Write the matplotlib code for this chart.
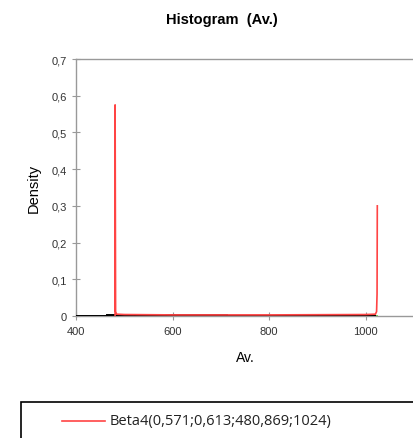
import matplotlib
matplotlib.use('Agg')
import matplotlib.pyplot as plt
from matplotlib.lines import Line2D
from matplotlib.patches import Rectangle
from matplotlib.ticker import FuncFormatter

# fitted Beta4 density
fit_x = [480.9, 481.0, 482.0, 484.0, 500.0, 600.0, 800.0, 1000.0, 1020.0, 1022.5, 1023.5, 1024.0]
fit_y = [0.0, 0.575, 0.012, 0.005, 0.004, 0.003, 0.003, 0.004, 0.005, 0.012, 0.06, 0.30]

# empirical histogram (tiny bars along the bottom)
bin_edges = [400, 465, 480, 523, 587, 713, 772, 834, 901, 963, 1022]
bin_dens = [0.0, 0.003, 0.0015, 0.0012, 0.002, 0.0012, 0.0012, 0.002, 0.0012, 0.0012]

fit_label = "Beta4(0,571;0,613;480,869;1024)"

plt.rcParams['font.family'] = ['Liberation Sans', 'DejaVu Sans']

fig = plt.figure(figsize=(4.14, 4.39), dpi=100)
ax = fig.add_axes([76 / 414, 1 - 317 / 439, 1 - 76 / 414, 257 / 439])

# histogram bars
ax.plot([465, 1022], [0.0008, 0.0008], color='#66cc33', lw=2, zorder=2)
ax.stairs(bin_dens, bin_edges, color='black', lw=1.4, zorder=3)
ax.plot(fit_x, fit_y, color='#ff4444', lw=1.2, zorder=4)

ax.set_xlim(400, 1100)
ax.set_ylim(0, 0.7)
ax.set_xticks([400, 600, 800, 1000])
ax.set_yticks([0, 0.1, 0.2, 0.3, 0.4, 0.5, 0.6, 0.7])
ax.yaxis.set_major_formatter(FuncFormatter(lambda v, p: '0' if v == 0 else ('%.1f' % v).replace('.', ',')))

for s in ['left', 'bottom', 'top']:
    ax.spines[s].set_color('#999999')
    ax.spines[s].set_linewidth(1)
ax.spines['right'].set_visible(False)
ax.tick_params(direction='inout', length=6, color='#999999', labelsize=8, labelcolor='#333333')
ax.tick_params(axis='x', pad=4)

ax.set_xlabel("Av.", fontsize=10, labelpad=10)
ax.set_ylabel("Density", fontsize=10.5, labelpad=8)

fig.text(222 / 414, 1 - 20 / 439, "Histogram  (Av.)", ha='center', va='center',
         fontsize=10.5, fontweight='bold')

# legend box drawn by hand (cut off by the image edge)
fig.patches.append(Rectangle((21 / 414, -0.05), 1.0, (1 - 403 / 439) + 0.05,
                             transform=fig.transFigure, fill=False,
                             edgecolor='black', lw=1.2))
ly = 1 - 422 / 439
fig.lines.append(Line2D([62 / 414, 105 / 414], [ly, ly], transform=fig.transFigure,
                        color='#ff4444', lw=1.2))
fig.text(110 / 414, ly, fit_label, ha='left', va='center', fontsize=10.5,
         family=['Open Sans', 'DejaVu Sans'], color='#222222')

fig.savefig('out.png', dpi=100)
